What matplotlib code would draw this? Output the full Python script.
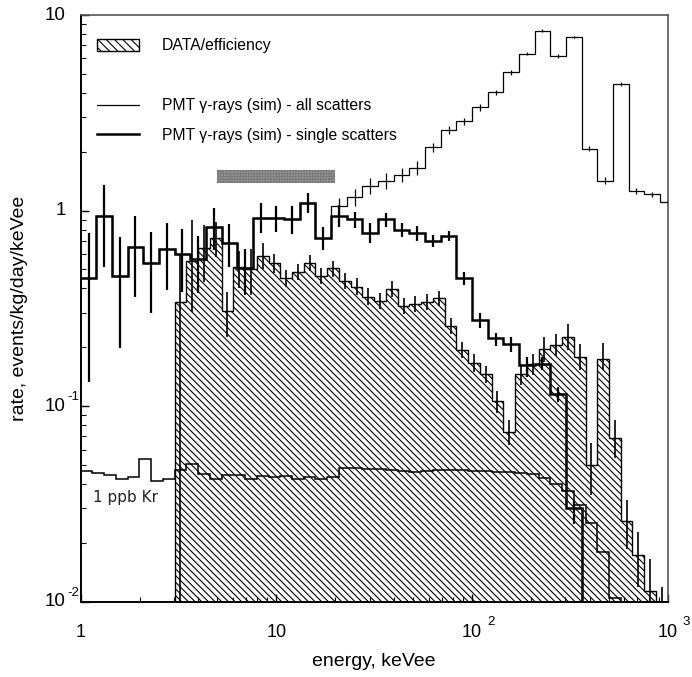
import numpy as np
import matplotlib
matplotlib.use("Agg")
import matplotlib.pyplot as plt
from matplotlib.lines import Line2D
from matplotlib.patches import Patch

plt.rcParams['font.family'] = ['Liberation Sans', 'DejaVu Sans']
plt.rcParams['hatch.linewidth'] = 0.8

# ---------------- data ----------------
# histogram bin edges (keVee): simulation uses 0.08-decade bins, data and Kr use 0.06-decade bins
sim_edges = np.logspace(0.0, 3.04, 39)
dat_edges = np.logspace(0.0, 3.0, 51)

# PMT gamma-rays (sim) - single scatters
single = [0.454, 0.938, 0.465, 0.649, 0.538, 0.634, 0.597, 0.564, 0.828, 0.686,
          0.507, 0.920, 0.913, 0.902, 1.097, 0.722, 0.938, 0.902, 0.765, 0.902,
          0.796, 0.765, 0.702, 0.742, 0.454, 0.276, 0.222, 0.208, 0.163, 0.165,
          0.115, 0.030, 0, 0, 0, 0, 0, 0]
single_lo = [0.133, 0.516, 0.198, 0.360, 0.298, 0.393, 0.385, 0.378, 0.630, 0.513,
             0.370, 0.765, 0.780, 0.760, 0.970, 0.630, 0.828, 0.812, 0.680, 0.822,
             0.730, 0.700, 0.650, 0.700, 0.416, 0.250, 0.202, 0.190, 0.141, 0.153,
             0.105, 0.025]
single_hi = [0.766, 1.350, 0.736, 0.938, 0.774, 0.861, 0.805, 0.742, 1.030, 0.854,
             0.634, 1.090, 1.060, 1.050, 1.230, 0.828, 1.070, 0.987, 0.861, 0.976,
             0.860, 0.830, 0.750, 0.790, 0.487, 0.298, 0.238, 0.227, 0.179, 0.178,
             0.126, 0.033]

# PMT gamma-rays (sim) - all scatters
allsc = [0.454, 0.938, 0.465, 0.649, 0.538, 0.634, 0.597, 0.564, 0.828, 0.686,
         0.507, 0.920, 0.913, 0.902, 1.097, 0.722, 1.06, 1.178, 1.34, 1.42,
         1.52, 1.66, 2.11, 2.58, 2.87, 3.37, 4.03, 5.09, 6.34, 8.31,
         6.17, 7.72, 2.07, 1.42, 4.44, 1.26, 1.21, 1.11]
allsc_relerr = [0, 0, 0, 0, 0, 0, 0, 0, 0, 0, 0, 0, 0, 0, 0, 0,
                0.10, 0.10, 0.09, 0.09, 0.08, 0.08, 0.05, 0.05, 0.04, 0.04,
                0.03, 0.03, 0.02, 0.015, 0.02, 0.015, 0.03, 0.04, 0.02, 0.03,
                0.03, 0.03]

# DATA / efficiency
data = [0, 0, 0, 0, 0, 0, 0, 0,
        0.342, 0.550, 0.640, 0.720, 0.307, 0.516, 0.500, 0.586, 0.538, 0.451,
        0.487, 0.542, 0.463, 0.507, 0.436, 0.408, 0.363, 0.345, 0.396, 0.325,
        0.333, 0.342, 0.356, 0.257, 0.194, 0.167, 0.146, 0.106, 0.074, 0.146,
        0.164, 0.195, 0.206, 0.227, 0.178, 0.050, 0.174, 0.069, 0.026, 0.0173,
        0.0114, 0.007]
data_lo = [0.004, 0.304, 0.433, 0.580, 0.227, 0.400, 0.370, 0.500, 0.480, 0.406,
           0.440, 0.490, 0.420, 0.460, 0.395, 0.370, 0.330, 0.315, 0.360, 0.295,
           0.302, 0.310, 0.325, 0.235, 0.176, 0.150, 0.131, 0.092, 0.063, 0.128,
           0.145, 0.169, 0.180, 0.194, 0.153, 0.035, 0.153, 0.054, 0.0187, 0.0119,
           0.005, 0.003]
data_hi = [0.600, 0.895, 0.844, 0.870, 0.385, 0.620, 0.636, 0.680, 0.600, 0.497,
           0.535, 0.595, 0.510, 0.555, 0.480, 0.450, 0.400, 0.378, 0.435, 0.357,
           0.365, 0.375, 0.390, 0.282, 0.214, 0.185, 0.161, 0.119, 0.085, 0.165,
           0.185, 0.227, 0.235, 0.263, 0.208, 0.065, 0.210, 0.085, 0.033, 0.0228,
           0.0166, 0.0119]

# 1 ppb Kr
kr = [0.0468, 0.0457, 0.0445, 0.0424, 0.0436, 0.0537, 0.0415, 0.0424, 0.0472, 0.0505,
      0.0450, 0.0422, 0.0445, 0.0445, 0.0424, 0.0441, 0.0436, 0.0440, 0.0426, 0.0436,
      0.0424, 0.0432, 0.0481, 0.0481, 0.0478, 0.0475, 0.0470, 0.0465, 0.0460, 0.0465,
      0.0470, 0.0472, 0.0470, 0.0468, 0.0465, 0.0462, 0.0460, 0.0455, 0.0450, 0.0428,
      0.0400, 0.0370, 0.0313, 0.0254, 0.0180, 0.0104, 0, 0, 0, 0]

# marked energy window
band_energy = [5, 20]
band_rate = [1.39, 1.61]

xticks = [1, 10, 100, 1000]
xtick_base = ['1', '10', '10', '10']
xtick_exp = ['', '', '2', '3']
yticks = [0.01, 0.1, 1, 10]
ytick_base = ['10', '10', '1', '10']
ytick_exp = ['-2', '-1', '', '']

XMIN, XMAX = 1, 1000
YMIN, YMAX = 0.01, 10

# ---------------- figure ----------------
fig = plt.figure(figsize=(6.92, 6.77), dpi=100)
ax = fig.add_axes([0.1166, 0.1112, 0.8483, 0.8666])
ax.set_xscale('log')
ax.set_yscale('log')
ax.set_xlim(XMIN, XMAX)
ax.set_ylim(YMIN, YMAX)

single = np.array(single, float)
allsc = np.array(allsc, float)
data = np.array(data, float)
kr = np.array(kr, float)

sim_c = np.sqrt(sim_edges[:-1] * sim_edges[1:])
dat_c = np.sqrt(dat_edges[:-1] * dat_edges[1:])

# data / efficiency, hatched
i0 = int(np.argmax(data > 0))
ax.stairs(np.clip(data[i0:], YMIN, None), dat_edges[i0:], baseline=YMIN, fill=True,
          facecolor='none', edgecolor='black', hatch='\\\\\\\\\\', linewidth=1.0, zorder=2)
dv = data[i0:]
ax.errorbar(dat_c[i0:], dv, yerr=[dv - np.array(data_lo), np.array(data_hi) - dv],
            fmt='none', ecolor='black', elinewidth=1.2, capsize=0, zorder=3)

# 1 ppb Kr
ax.stairs(np.clip(kr, YMIN, None), dat_edges, baseline=None, color='black',
          linewidth=1.1, zorder=4)

# all scatters (thin)
ax.stairs(allsc, sim_edges, baseline=None, color='black', linewidth=0.9, zorder=5)
ae = allsc * np.array(allsc_relerr)
m = ae > 0
ax.errorbar(sim_c[m], allsc[m], yerr=ae[m], fmt='none', ecolor='black',
            elinewidth=0.9, capsize=0, zorder=5)

# single scatters (thick)
ax.stairs(np.clip(single, YMIN, None), sim_edges, baseline=None, color='black',
          linewidth=1.8, zorder=6)
ns = len(single_lo)
sv = single[:ns]
ax.errorbar(sim_c[:ns], sv, yerr=[sv - np.array(single_lo), np.array(single_hi) - sv],
            fmt='none', ecolor='black', elinewidth=1.6, capsize=0, zorder=6)

# energy window band
ax.fill_between(band_energy, band_rate[0], band_rate[1], facecolor='#9a9a9a',
                edgecolor='#7a7a7a', hatch='++++++', linewidth=0, zorder=4)

ax.text(1.16, 0.0342, '1 ppb Kr', fontsize=11, family='DejaVu Sans',
        ha='left', va='center', color='#222222', zorder=7)

# axes styling
for s in ['top', 'right']:
    ax.spines[s].set_color('#555555')
    ax.spines[s].set_linewidth(1.2)
for s in ['left', 'bottom']:
    ax.spines[s].set_color('black')
    ax.spines[s].set_linewidth(1.4)
ax.tick_params(which='both', direction='in', top=False, right=False,
               labelleft=False, labelbottom=False)
ax.tick_params(which='major', length=6, width=1.0)
ax.tick_params(which='minor', length=3.5, width=0.8)
ax.set_xticks(xticks)
ax.set_yticks(yticks)

for v, b, e in zip(xticks, xtick_base, xtick_exp):
    ax.annotate(b, xy=(v, 0), xycoords=('data', 'axes fraction'), xytext=(0, -31),
                textcoords='offset pixels', ha='center', va='center', fontsize=13)
    if e:
        ax.annotate(e, xy=(v, 0), xycoords=('data', 'axes fraction'), xytext=(15, -20),
                    textcoords='offset pixels', ha='left', va='center', fontsize=9.5)
for v, b, e in zip(yticks, ytick_base, ytick_exp):
    ax.annotate(b, xy=(0, v), xycoords=('axes fraction', 'data'), xytext=(-15, 0),
                textcoords='offset pixels', ha='right', va='center', fontsize=13.5)
    if e:
        ax.annotate(e, xy=(0, v), xycoords=('axes fraction', 'data'), xytext=(-13, 9),
                    textcoords='offset pixels', ha='left', va='center', fontsize=9.5)

fig.text(374 / 692, 1 - 662 / 677, 'energy, keVee', ha='center', va='center', fontsize=14)
fig.text(20 / 692, 1 - 308 / 677, 'rate, events/kg/day/keVee', ha='center', va='center',
         rotation=90, fontsize=14)

handles = [
    Patch(facecolor='none', edgecolor='black', hatch='\\\\\\\\', linewidth=1.0,
          label='DATA/efficiency'),
    Line2D([], [], color='none', label=' '),
    Line2D([], [], color='black', linewidth=0.9, label='PMT \u03b3-rays (sim) - all scatters'),
    Line2D([], [], color='black', linewidth=1.8, label='PMT \u03b3-rays (sim) - single scatters'),
]
ax.legend(handles=handles, loc='upper left', bbox_to_anchor=(0.027, 0.960),
          frameon=False, fontsize=11.3, handlelength=2.7, handleheight=0.8,
          handletextpad=1.45, labelspacing=0.95, borderpad=0, borderaxespad=0)

fig.savefig('out.png', dpi=100)
